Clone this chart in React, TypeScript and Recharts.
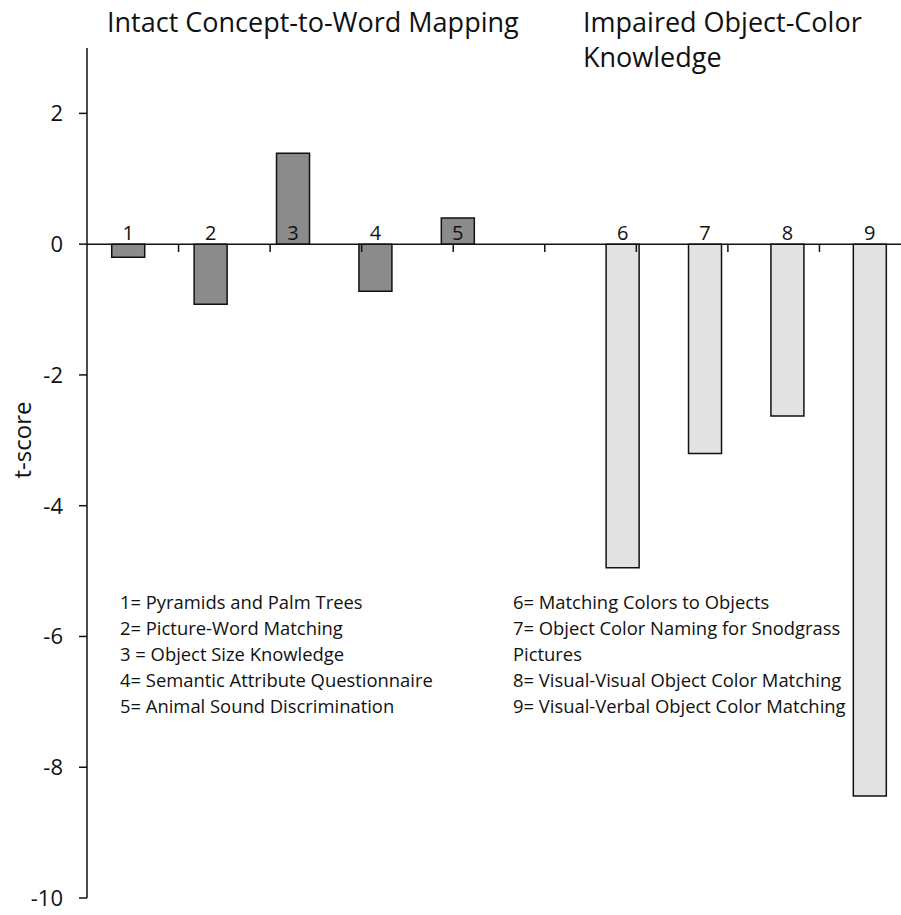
import React from 'react';
import { BarChart, Bar, XAxis, YAxis, Cell, LabelList, ReferenceLine, Label } from 'recharts';

// one empty slot between the two groups
const categories = ['1', '2', '3', '4', '5', '', '6', '7', '8', '9'];
const tScores = [-0.2, -0.92, 1.39, -0.72, 0.4, null, -4.95, -3.2, -2.63, -8.44];
const groups = ['intact', 'intact', 'intact', 'intact', 'intact', null, 'impaired', 'impaired', 'impaired', 'impaired'];

const yTicks = [-10, -8, -6, -4, -2, 0, 2];
const boundaries = [1, 2, 3, 4, 5, 6, 7, 8, 9, 10];

const intactNotes = [
  '1= Pyramids and Palm Trees',
  '2= Picture-Word Matching',
  '3 = Object Size Knowledge',
  '4= Semantic Attribute Questionnaire',
  '5= Animal Sound Discrimination',
];
const impairedNotes = [
  '6= Matching Colors to Objects',
  '7= Object Color Naming for Snodgrass',
  'Pictures',
  '8= Visual-Visual Object Color Matching',
  '9= Visual-Verbal Object Color Matching',
];

const GROUP_COLORS: Record<string, string> = { intact: '#8b8b8b', impaired: '#e2e2e2' };
const FONT = '"Open Sans", "Noto Sans", sans-serif';

const data = categories.map((cat, i) => ({ cat, t: tScores[i], group: groups[i] }));

// number sits just above the zero line, whatever the sign of the bar
const renderNumber = (props: any) => {
  const { x, y, width, height, value } = props;
  const idx = categories.indexOf(String(value));
  if (!value || idx < 0) return null;
  const v = tScores[idx];
  if (v == null) return null;
  let zeroY;
  if (v >= 0) zeroY = y + height;
  else zeroY = height < 0 ? y + height : y;
  return (
    <text x={x + width / 2} y={zeroY - 4} textAnchor="middle" fontSize={20} fill="#111" fontFamily={FONT}>
      {value}
    </text>
  );
};

export default function App() {
  return (
    <div style={{ position: 'absolute', left: 0, top: 0, width: 901, height: 915, overflow: 'hidden', background: '#fff' }}>
      <BarChart
        width={911}
        height={915}
        data={data}
        margin={{ top: 48, right: 0, bottom: 17, left: 0 }}
        barCategoryGap="30%"
      >
        <XAxis dataKey="cat" hide />
        <XAxis xAxisId="n" type="number" domain={[0, 10]} ticks={boundaries} allowDataOverflow hide />
        <YAxis
          domain={[-10, 3]}
          ticks={yTicks}
          width={87}
          tickSize={8}
          tickMargin={16}
          axisLine={{ stroke: '#111', strokeWidth: 1.5 }}
          tickLine={{ stroke: '#111', strokeWidth: 1.5 }}
          tick={{ fontSize: 22, fill: '#111', fontFamily: FONT }}
          allowDataOverflow
        >
          <Label
            content={() => (
              <text x={31} y={440} transform="rotate(-90 31 440)" textAnchor="middle" fontSize={24} fill="#111" fontFamily={FONT}>
                t-score
              </text>
            )}
          />
        </YAxis>
        <ReferenceLine y={0} stroke="#111" strokeWidth={1.5} />
        {boundaries.map((b) => (
          <ReferenceLine
            key={b}
            xAxisId="n"
            segment={[{ x: b, y: 0 }, { x: b, y: -0.12 }]}
            stroke="#111"
            strokeWidth={1.5}
            ifOverflow="visible"
          />
        ))}
        <Bar dataKey="t" stroke="#111" strokeWidth={1.5} isAnimationActive={false}>
          {data.map((d, i) => (
            <Cell key={`cell-${i}`} fill={d.group ? GROUP_COLORS[d.group] : 'none'} />
          ))}
          <LabelList dataKey="cat" content={renderNumber} />
        </Bar>
      </BarChart>
      <svg width={901} height={915} style={{ position: 'absolute', left: 0, top: 0, pointerEvents: 'none' }}>
        <g fontFamily={FONT} fill="#111">
          <text x={107} y={32} fontSize={27}>Intact Concept-to-Word Mapping</text>
          <text x={583} y={32} fontSize={27}>Impaired Object-Color</text>
          <text x={583} y={67} fontSize={27}>Knowledge</text>
          {intactNotes.map((s, i) => (
            <text key={s} x={120} y={609 + i * 26} fontSize={18.4}>{s}</text>
          ))}
          {impairedNotes.map((s, i) => (
            <text key={s} x={513} y={609 + i * 26} fontSize={18.4}>{s}</text>
          ))}
        </g>
      </svg>
    </div>
  );
}
